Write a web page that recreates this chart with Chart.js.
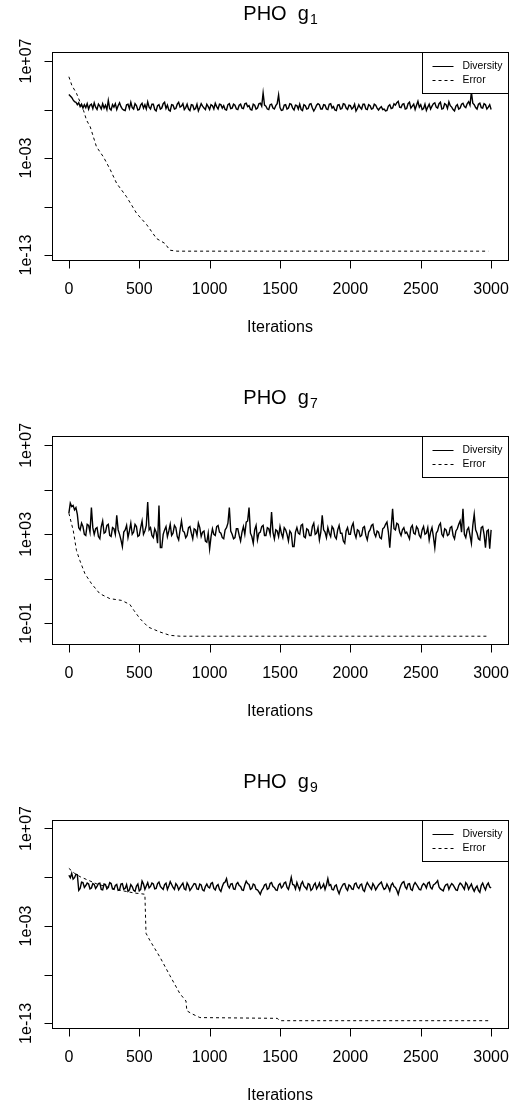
<!DOCTYPE html>
<html>
<head>
<meta charset="utf-8">
<script src="https://cdn.jsdelivr.net/npm/chart.js@4"></script>
<style>
  body { margin: 0; background: #fff; }
  #wrap { position: relative; width: 524px; height: 1107px; overflow: hidden; }
  canvas { position: absolute; left: 0; }
</style>
</head>
<body>
<div id="wrap">
  <canvas id="g1" style="top:0px"></canvas>
  <canvas id="g7" style="top:384px"></canvas>
  <canvas id="g9" style="top:768px"></canvas>
</div>
<script>
// iterations are 0..3000, diversity sampled every 10 iterations (log10 values)
const step = 10;
const xTicks = [0, 500, 1000, 1500, 2000, 2500, 3000];

// g1
const div1 = [
  3.55, 3.40, 3.25, 3.00, 2.80, 2.75, 2.50, 2.70, 2.30, 2.55, 2.15, 2.50, 2.20, 2.60, 2.05, 2.45, 2.55, 2.10, 2.70, 2.25,
  2.00, 2.55, 2.35, 2.05, 2.60, 2.15, 2.45, 2.00, 2.95, 2.10, 1.95, 2.50, 2.25, 2.60, 2.00, 2.40, 2.70, 2.30, 2.05, 1.95,
  1.90, 2.50, 2.55, 2.10, 2.75, 2.20, 2.05, 2.60, 2.40, 1.95, 2.00, 2.45, 2.65, 2.15, 2.50, 2.05, 2.80, 2.25, 2.05, 2.55,
  2.55, 2.00, 1.85, 2.40, 2.50, 2.05, 2.15, 2.60, 2.75, 2.10, 2.45, 1.95, 1.85, 2.50, 2.45, 2.05, 2.10, 2.55, 2.75, 2.25,
  2.35, 2.60, 2.00, 2.20, 2.55, 2.05, 1.90, 2.50, 2.45, 2.00, 2.10, 2.55, 1.85, 2.20, 2.60, 2.35, 2.15, 2.00, 2.55, 2.30,
  2.00, 2.50, 2.40, 2.05, 2.65, 2.30, 2.05, 2.55, 2.50, 2.15, 2.40, 2.00, 1.95, 2.50, 2.60, 2.10, 2.15, 2.55, 2.45, 2.05,
  2.00, 2.45, 2.55, 2.15, 2.10, 2.60, 2.65, 2.30, 2.40, 2.00, 1.95, 2.55, 2.45, 2.05, 2.15, 2.60, 2.65, 2.35, 3.70, 2.45,
  2.35, 2.05, 2.00, 2.50, 2.55, 2.15, 2.05, 2.40, 2.60, 3.50, 2.20, 1.90, 1.95, 2.45, 2.50, 2.05, 2.15, 2.60, 2.55, 2.15,
  1.95, 2.45, 2.40, 2.05, 2.55, 2.00, 1.90, 2.50, 2.40, 2.05, 2.10, 2.55, 2.60, 2.15, 1.85, 2.10, 2.45, 2.60, 2.50, 2.05,
  2.05, 2.50, 2.45, 2.05, 2.00, 2.55, 2.60, 2.15, 2.30, 1.95, 1.90, 2.45, 2.50, 2.05, 2.10, 2.60, 2.55, 2.15, 2.00, 2.45,
  2.40, 2.05, 2.20, 2.55, 1.85, 2.10, 2.50, 2.20, 2.05, 2.55, 2.55, 2.05, 2.00, 2.50, 2.40, 2.05, 2.10, 2.55, 2.45, 2.15,
  1.95, 2.15, 2.30, 2.00, 2.05, 1.85, 1.90, 2.35, 2.50, 2.10, 2.15, 2.60, 2.45, 2.70, 2.85, 2.25, 2.20, 2.55, 2.60, 2.05,
  2.10, 2.60, 2.75, 2.15, 2.35, 2.55, 2.00, 2.45, 2.85, 2.25, 2.50, 2.00, 2.10, 2.55, 1.90, 2.25, 2.55, 2.05, 2.35, 2.60,
  2.70, 2.25, 2.15, 2.60, 2.75, 2.05, 2.10, 2.60, 2.50, 2.10, 2.80, 2.40, 2.25, 2.00, 1.85, 2.35, 2.50, 2.05, 2.15, 2.55,
  2.65, 2.30, 2.20, 2.60, 2.80, 2.45, 3.80, 2.65, 2.50, 2.20, 2.05, 2.55, 2.65, 2.20, 2.15, 2.60, 2.50, 2.05, 2.25, 2.50,
  2.00
];
const errIter1 = [0, 21, 54, 104, 125, 152, 196, 246, 294, 339, 410, 481, 552, 623, 682, 718, 768, 2980];
const errVal1 = [5.38, 4.49, 3.67, 1.91, 0.92, 0.20, -1.84, -2.90, -4.20, -5.60, -7.00, -8.70, -9.85, -11.30, -11.80, -12.50, -12.60, -12.60];

// g7
const div2 = [
  3.95, 4.40, 4.25, 4.30, 4.10, 4.20, 3.90, 3.30, 3.20, 3.50, 3.35, 3.00, 2.95, 3.45, 3.40, 3.10, 4.20, 3.30, 3.00, 3.25,
  3.30, 2.90, 2.80, 3.35, 3.60, 3.05, 3.10, 3.40, 3.45, 2.95, 2.90, 3.30, 3.25, 3.00, 3.85, 3.20, 3.00, 2.75, 2.45, 3.10,
  3.20, 3.40, 2.85, 3.15, 3.50, 3.00, 3.10, 3.45, 3.35, 2.90, 2.95, 3.30, 3.60, 3.00, 3.15, 3.40, 4.45, 3.20, 3.30, 2.95,
  2.85, 3.25, 3.10, 2.60, 4.30, 2.40, 2.40, 3.00, 3.20, 3.35, 2.90, 3.15, 3.45, 2.95, 3.05, 3.40, 3.30, 2.90, 2.75, 3.20,
  3.60, 3.15, 3.10, 2.85, 2.95, 3.30, 3.35, 3.05, 2.80, 3.25, 3.20, 2.95, 3.50, 3.30, 2.90, 3.10, 3.15, 2.70, 2.65, 3.05,
  2.35, 2.90, 3.25, 3.00, 2.95, 3.35, 3.40, 3.10, 3.05, 2.85, 2.80, 3.20, 3.30, 3.50, 4.20, 3.15, 3.00, 2.80, 2.85, 3.25,
  3.25, 2.95, 2.70, 3.10, 3.35, 3.00, 3.55, 3.60, 4.20, 3.05, 2.90, 2.60, 3.20, 3.40, 2.75, 3.05, 3.10, 3.35, 3.40, 2.95,
  2.95, 3.30, 3.25, 3.00, 4.00, 3.10, 2.80, 3.20, 3.15, 2.90, 3.35, 3.05, 2.85, 3.30, 3.20, 3.00, 2.70, 3.15, 3.05, 2.45,
  2.45, 3.10, 3.30, 3.05, 3.00, 3.40, 3.45, 2.90, 2.85, 3.25, 3.20, 2.95, 2.95, 3.35, 3.50, 3.00, 3.05, 3.30, 2.75, 3.10,
  3.85, 3.20, 3.10, 2.85, 3.30, 3.05, 2.90, 3.35, 3.25, 2.90, 2.80, 3.20, 3.40, 3.05, 3.05, 2.70, 2.60, 3.15, 3.30, 3.00,
  3.00, 3.35, 3.50, 3.05, 2.85, 3.20, 3.15, 2.90, 2.95, 3.30, 3.35, 2.95, 2.75, 3.10, 3.20, 3.40, 3.45, 3.05, 2.90, 3.15,
  3.10, 2.85, 2.80, 3.25, 3.30, 3.45, 3.55, 3.10, 2.40, 3.30, 4.15, 3.25, 3.20, 3.50, 3.45, 3.10, 2.95, 3.20, 3.30, 3.05,
  3.10, 2.95, 2.80, 3.30, 3.40, 3.05, 3.00, 3.35, 3.25, 2.95, 2.85, 3.20, 3.35, 3.00, 3.05, 3.30, 2.75, 3.10, 3.30, 2.90,
  2.40, 3.05, 3.15, 3.40, 3.50, 3.00, 2.90, 3.25, 3.20, 2.95, 3.00, 3.30, 3.35, 2.95, 2.80, 3.15, 3.25, 3.45, 3.60, 3.10,
  4.15, 3.00, 2.85, 3.20, 3.30, 2.95, 2.60, 3.40, 3.90, 3.20, 3.05, 2.80, 2.75, 3.30, 3.35, 3.00, 2.40, 3.15, 3.20, 2.35,
  3.20
];
const errIter2 = [0, 31, 54, 78, 114, 161, 220, 291, 374, 433, 462, 505, 564, 647, 718, 791, 2980];
const errVal2 = [3.95, 3.17, 2.27, 1.82, 1.23, 0.78, 0.33, 0.11, 0.03, -0.15, -0.42, -0.79, -1.17, -1.39, -1.54, -1.58, -1.58];

// g9
const div3 = [
  2.20, 1.95, 2.40, 1.80, 1.95, 2.30, 2.25, 0.65, 0.85, 1.50, 1.45, 0.95, 1.15, 1.40, 1.30, 0.80, 0.90, 1.35, 1.25, 0.85,
  1.05, 1.35, 1.40, 0.75, 0.70, 1.30, 1.25, 0.80, 0.95, 1.45, 1.35, 0.80, 0.75, 1.15, 1.25, 0.65, 0.70, 1.30, 1.35, 0.75,
  0.85, 1.25, 0.55, 0.70, 1.25, 1.05, 0.65, 0.55, 1.10, 1.30, 0.60, 0.75, 1.60, 1.30, 0.75, 1.10, 1.45, 0.90, 1.05, 1.40,
  1.30, 0.80, 0.85, 1.35, 1.50, 1.05, 0.90, 0.75, 1.25, 1.40, 0.75, 1.10, 1.55, 1.25, 0.95, 0.75, 1.35, 1.15, 0.70, 0.95,
  1.20, 1.40, 0.80, 0.70, 1.40, 1.15, 0.65, 0.85, 1.10, 1.35, 1.30, 0.80, 0.75, 1.30, 1.20, 0.70, 0.60, 1.05, 1.30, 1.00,
  0.90, 1.35, 1.45, 0.85, 0.70, 1.10, 1.25, 0.75, 0.55, 1.05, 1.40, 1.50, 1.85, 1.15, 0.90, 1.30, 1.35, 0.80, 0.75, 1.30,
  1.45, 1.15, 1.05, 0.70, 0.65, 1.20, 1.60, 1.35, 1.25, 0.75, 0.85, 1.30, 1.20, 0.75, 0.70, 0.50, 0.25, 0.65, 0.85, 1.20,
  1.30, 0.75, 0.85, 1.35, 1.45, 1.05, 0.95, 0.70, 0.65, 1.20, 1.35, 0.90, 1.05, 1.40, 1.50, 0.95, 0.75, 1.30, 2.00, 1.25,
  1.20, 0.80, 1.45, 1.05, 0.70, 1.30, 1.55, 1.10, 0.95, 0.75, 1.35, 1.25, 0.65, 0.80, 1.20, 1.40, 0.80, 1.05, 1.40, 0.85,
  1.00, 1.30, 0.75, 1.20, 1.85, 1.15, 1.25, 0.75, 0.70, 1.10, 1.20, 0.65, 0.30, 0.75, 1.05, 1.30, 1.35, 0.85, 0.65, 1.20,
  1.10, 0.80, 0.75, 1.30, 1.40, 1.00, 0.85, 1.20, 1.30, 0.70, 0.55, 1.10, 1.45, 1.20, 0.95, 0.75, 1.35, 1.10, 0.70, 0.95,
  1.20, 1.35, 1.50, 1.05, 0.75, 0.85, 1.30, 1.00, 0.60, 1.20, 1.40, 1.05, 0.95, 0.65, 0.25, 0.80, 1.20, 1.45, 1.55, 1.00,
  0.80, 1.30, 1.35, 0.75, 0.65, 1.20, 1.45, 1.25, 1.00, 0.75, 0.70, 1.15, 1.35, 1.20, 0.90, 1.40, 1.50, 0.95, 0.80, 1.20,
  1.30, 1.45, 1.65, 1.00, 0.80, 0.70, 0.60, 1.05, 1.25, 1.30, 0.75, 1.10, 1.35, 1.20, 0.95, 0.70, 0.65, 1.15, 1.40, 1.25,
  1.00, 0.75, 1.45, 1.25, 0.75, 1.05, 1.30, 0.85, 0.55, 0.90, 1.10, 0.65, 0.45, 1.15, 1.40, 1.00, 0.70, 1.20, 1.40, 1.00,
  0.90
];
const errIter3 = [0, 40, 80, 200, 350, 469, 516, 540, 548, 576, 647, 718, 789, 832, 838, 872, 931, 1480, 1500, 2980];
const errVal3 = [2.91, 2.40, 2.05, 1.30, 0.70, 0.37, 0.30, 0.25, -3.75, -4.50, -6.20, -8.10, -9.95, -10.70, -11.70, -12.00, -12.40, -12.48, -12.72, -12.72];

const yTicks1 = [7, 2, -3, -8, -13];
const yLabels1 = ['1e+07', '', '1e-03', '', '1e-13'];
const yTicks2 = [7, 5, 3, 1, -1];
const yLabels2 = ['1e+07', '', '1e+03', '', '1e-01'];

const FONT = '"Liberation Sans", Arial, sans-serif';

// R-like base graphics: box, outside ticks, rotated y labels, title, legend
const rStyle = {
  id: 'rStyle',
  afterDraw(chart, args, o) {
    const { ctx, chartArea: a, scales: { x, y } } = chart;
    ctx.save();
    ctx.strokeStyle = '#000';
    ctx.fillStyle = '#000';
    ctx.lineWidth = 1;
    ctx.setLineDash([]);
    ctx.strokeRect(Math.round(a.left) + 0.5, Math.round(a.top) + 0.5,
      Math.round(a.right - a.left), Math.round(a.bottom - a.top));

    const bot = Math.round(a.bottom) + 0.5;
    ctx.beginPath();
    xTicks.forEach(v => {
      const px = Math.round(x.getPixelForValue(v)) + 0.5;
      ctx.moveTo(px, bot); ctx.lineTo(px, bot + 8);
    });
    const lft = Math.round(a.left) + 0.5;
    o.yTicks.forEach(e => {
      const py = Math.round(y.getPixelForValue(Math.pow(10, e))) + 0.5;
      ctx.moveTo(lft, py); ctx.lineTo(lft - 8, py);
    });
    ctx.stroke();

    ctx.font = '16px ' + FONT;
    ctx.textAlign = 'center';
    ctx.textBaseline = 'middle';
    xTicks.forEach(v => ctx.fillText(String(v), x.getPixelForValue(v), a.bottom + 30));
    ctx.fillText('Iterations', (a.left + a.right) / 2, a.bottom + 68);

    o.yTicks.forEach((e, i) => {
      if (!o.yLabels[i]) return;
      ctx.save();
      ctx.translate(a.left - 25, y.getPixelForValue(Math.pow(10, e)));
      ctx.rotate(-Math.PI / 2);
      ctx.fillText(o.yLabels[i], 0, 0);
      ctx.restore();
    });

    // title "PHO  g" with subscript
    const main = 'PHO  g';
    ctx.textBaseline = 'alphabetic';
    ctx.textAlign = 'left';
    ctx.font = '20px ' + FONT;
    const w1 = ctx.measureText(main).width;
    ctx.font = '14px ' + FONT;
    const w2 = ctx.measureText(o.sub).width;
    const tx = (a.left + a.right) / 2 - (w1 + w2) / 2;
    ctx.font = '20px ' + FONT;
    ctx.fillText(main, tx, 20);
    ctx.font = '14px ' + FONT;
    ctx.fillText(o.sub, tx + w1 + 1, 24);

    // legend
    const lw = 86, lh = 41;
    const lx = Math.round(a.right) - lw + 0.5, ly = Math.round(a.top) + 0.5;
    ctx.fillStyle = '#fff';
    ctx.fillRect(lx, ly, lw, lh);
    ctx.strokeRect(lx, ly, lw, lh);
    ctx.fillStyle = '#000';
    ctx.beginPath();
    ctx.moveTo(lx + 10, ly + 14); ctx.lineTo(lx + 31, ly + 14);
    ctx.stroke();
    ctx.setLineDash([3, 3]);
    ctx.beginPath();
    ctx.moveTo(lx + 10, ly + 28); ctx.lineTo(lx + 31, ly + 28);
    ctx.stroke();
    ctx.setLineDash([]);
    ctx.font = '10.4px ' + FONT;
    ctx.textBaseline = 'middle';
    ctx.fillText('Diversity', lx + 40, ly + 14);
    ctx.fillText('Error', lx + 40, ly + 28);
    ctx.restore();
  }
};

function makeChart(id, sub, div, errIter, errVal, yMin, yMax, yTicks, yLabels, h) {
  const cv = document.getElementById(id);
  cv.width = 524; cv.height = h;
  cv.style.width = '524px'; cv.style.height = h + 'px';
  return new Chart(cv, {
    type: 'line',
    data: {
      datasets: [{
        label: 'Diversity',
        data: div.map((v, i) => ({ x: i * step, y: Math.pow(10, v) })),
        borderColor: '#000',
        borderWidth: 1.4,
        pointRadius: 0,
        tension: 0
      }, {
        label: 'Error',
        data: errIter.map((t, i) => ({ x: t, y: Math.pow(10, errVal[i]) })),
        borderColor: '#000',
        borderWidth: 1,
        borderDash: [3, 3],
        pointRadius: 0,
        tension: 0
      }]
    },
    options: {
      responsive: false,
      animation: false,
      events: [],
      layout: { padding: { left: 52, right: 16, top: 52, bottom: h - 260 } },
      scales: {
        x: { type: 'linear', min: -120, max: 3120, display: false },
        y: { type: 'logarithmic', min: Math.pow(10, yMin), max: Math.pow(10, yMax), display: false }
      },
      plugins: {
        legend: { display: false },
        tooltip: { enabled: false },
        rStyle: { sub: sub, yTicks: yTicks, yLabels: yLabels }
      }
    },
    plugins: [rStyle]
  });
}

makeChart('g1', '1', div1, errIter1, errVal1, -13.51, 7.93, yTicks1, yLabels1, 340);
makeChart('g7', '7', div2, errIter2, errVal2, -1.93, 7.42, yTicks2, yLabels2, 340);
makeChart('g9', '9', div3, errIter3, errVal3, -13.47, 7.87, yTicks1, yLabels1, 339);
</script>
</body>
</html>
